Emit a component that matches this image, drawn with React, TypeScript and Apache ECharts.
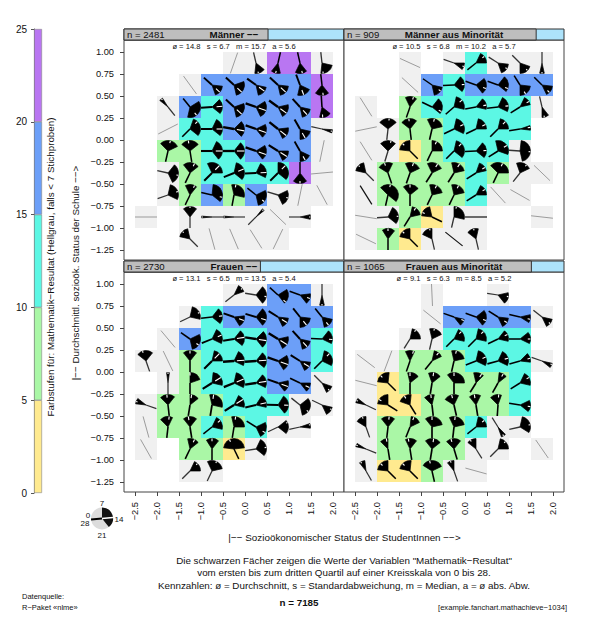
import React, { useEffect, useRef } from "react";
import * as echarts from "echarts";

const FONT = "Liberation Sans, Arial, sans-serif";
const TOTAL_N = 7185;

// colour classes: 0 few samples, 1..5 = bands of the mean
const classColors = ["#F0F0F0", "#FFEA8F", "#AAF7A6", "#5CF7E4", "#6C9FF8", "#B976F2"];
const bandColors = classColors.slice(1);
const bandSize = [5, 5, 5, 5, 5];
const xTicks = [-2.5, -2, -1.5, -1, -0.5, 0, 0.5, 1, 1.5, 2];
const yTicks = [-1.25, -1, -0.75, -0.5, -0.25, 0, 0.25, 0.5, 0.75, 1];

const legendQ1 = 7;
const legendMedian = 13.6;
const legendQ3 = 18;

const panelTitles = ["Männer −−", "Männer aus Minorität", "Frauen −−", "Frauen aus Minorität"];
const panelN = [2481, 909, 2730, 1065];
const panelStats = [
  "ø = 14.8   s = 6.7   m = 15.7   a = 5.6",
  "ø = 10.5   s = 6.8   m = 10.2   a = 5.7",
  "ø = 13.1   s = 6.5   m = 13.5   a = 5.4",
  "ø = 9.1   s = 6.3   m = 8.5   a = 5.2",
];

// each cell: [ses, schoolSes, class, median, q1, q3, n]
const cellsMen = [
  [-0.25, 0.875, 0, 22.5, 0, 0, 1], [0.25, 0.875, 0, 20, 17, 21.5, 4], [0.75, 0.875, 5, 22, 20, 24, 8], [1.25, 0.875, 5, 20, 18, 23, 8], [1.75, 0.875, 0, 20.5, 15, 21.5, 5],
  [-1.25, 0.625, 0, 18.2, 0, 0, 1], [-0.75, 0.625, 4, 17.3, 14.5, 19.5, 25], [-0.25, 0.625, 4, 17.3, 12.5, 20, 30], [0.25, 0.625, 4, 16.8, 15, 20, 35], [0.75, 0.625, 4, 17.3, 14.5, 20, 35], [1.25, 0.625, 4, 19.4, 16, 22, 25], [1.75, 0.625, 5, 20.5, 18, 24, 10],
  [-1.75, 0.375, 0, 4, 3, 4.5, 3], [-1.25, 0.375, 4, 18, 11.5, 22, 12], [-0.75, 0.375, 3, 13.7, 10.5, 17, 30], [-0.25, 0.375, 4, 17.3, 12.5, 20, 35], [0.25, 0.375, 4, 15.5, 11.5, 19, 50], [0.75, 0.375, 4, 16.8, 13, 19, 50], [1.25, 0.375, 4, 17.7, 15, 20, 30], [1.75, 0.375, 5, 20.7, 17, 22, 12],
  [-1.75, 0.125, 0, 25.9, 0, 0, 1], [-1.25, 0.125, 3, 10.5, 8.5, 17, 12], [-0.75, 0.125, 3, 14, 9, 17, 30], [-0.25, 0.125, 4, 14.8, 10.5, 17.5, 50], [0.25, 0.125, 4, 15.5, 12, 18, 50], [0.75, 0.125, 4, 17, 13.5, 19, 50], [1.25, 0.125, 4, 18.7, 15, 21, 30], [1.75, 0.125, 0, 15, 14.3, 15.7, 3],
  [-1.75, -0.125, 2, 8, 3.5, 12, 9], [-1.25, -0.125, 2, 6.3, 3, 11, 10], [-0.75, -0.125, 3, 14, 9, 18, 35], [-0.25, -0.125, 3, 14, 10, 18, 50], [0.25, -0.125, 4, 15.5, 11.5, 18, 50], [0.75, -0.125, 4, 16.5, 14, 19, 40], [1.25, -0.125, 4, 18.7, 16, 21, 20], [1.75, -0.125, 0, 21.9, 0, 0, 1],
  [-1.75, -0.375, 0, 15, 10, 19, 5], [-1.25, -0.375, 2, 9, 4, 11, 12], [-0.75, -0.375, 3, 10.5, 5, 14, 30], [-0.25, -0.375, 3, 12.3, 8, 17, 30], [0.25, -0.375, 3, 13.8, 9, 16, 30], [0.75, -0.375, 3, 10.5, 7, 17, 25], [1.25, -0.375, 5, 21, 18, 24, 8], [1.75, -0.375, 0, 27.6, 0, 0, 1],
  [-1.75, -0.625, 0, 12.5, 8, 16, 4], [-1.25, -0.625, 2, 9, 5, 10, 8], [-0.75, -0.625, 4, 15, 7.5, 17, 9], [-0.25, -0.625, 2, 7.8, 6, 15, 10], [0.25, -0.625, 4, 17, 12, 20, 9], [0.75, -0.625, 0, 15.3, 12, 19, 5], [1.25, -0.625, 0, 21.9, 0, 0, 1], [1.75, -0.625, 0, 18.8, 0, 0, 1],
  [-2.25, -0.875, 0, 14, 0, 0, 1], [-1.25, -0.875, 0, 7, 4, 10, 3], [-0.75, -0.875, 0, 0, -0.4, 0.4, 2], [-0.25, -0.875, 0, 0, -0.4, 0.4, 2], [0.25, -0.875, 0, 10.5, 10, 11, 2], [0.75, -0.875, 0, 17.4, 0, 0, 1], [1.25, -0.875, 0, 14, 13, 15, 2],
  [-1.25, -1.125, 0, 3.5, 1, 6, 3], [-0.75, -1.125, 0, 19.8, 0, 0, 1], [-0.25, -1.125, 0, 19.2, 0, 0, 1], [0.25, -1.125, 0, 18.5, 0, 0, 1], [0.75, -1.125, 0, 23, 0, 0, 1],
];

const cellsMenMinority = [
  [-1.25, 0.875, 0, 15.9, 0, 0, 1], [-0.25, 0.875, 0, 15.5, 14, 17, 3], [0.25, 0.875, 3, 11, 9, 14, 8], [0.75, 0.875, 0, 16.5, 14.5, 19.5, 4], [1.25, 0.875, 0, 17.5, 15.5, 21, 4], [1.75, 0.875, 0, 21, 20, 22, 3],
  [-1.25, 0.625, 0, 17.3, 0, 0, 1], [-0.75, 0.625, 4, 16.7, 15, 20, 8], [-0.25, 0.625, 3, 13.8, 10, 17, 10], [0.25, 0.625, 4, 15.5, 11, 18, 12], [0.75, 0.625, 4, 15.5, 10, 17, 12], [1.25, 0.625, 4, 18.5, 14.5, 21, 10], [1.75, 0.625, 4, 17.5, 14.5, 19, 10],
  [-2.25, 0.375, 0, 18.5, 0, 0, 1], [-1.25, 0.375, 2, 8.5, 5, 10, 9], [-0.75, 0.375, 3, 16, 10, 17, 12], [-0.25, 0.375, 3, 10.8, 8, 15, 12], [0.25, 0.375, 3, 13.2, 10, 15, 12], [0.75, 0.375, 3, 13.5, 9, 16, 12], [1.25, 0.375, 3, 11.5, 9, 13, 10], [1.75, 0.375, 0, 20, 18, 21, 3],
  [-2.25, 0.125, 0, 27.1, 0, 0, 1], [-1.75, 0.125, 0, 7.5, 3, 11, 5], [-1.25, 0.125, 2, 6.5, 3, 10, 10], [-0.75, 0.125, 2, 8, 5, 13, 12], [-0.25, 0.125, 3, 12, 8, 16, 15], [0.25, 0.125, 3, 12, 8, 14, 15], [0.75, 0.125, 3, 10.5, 8, 14, 15], [1.25, 0.125, 3, 13.3, 12.5, 14.5, 10],
  [-2.25, -0.125, 0, 18.5, 0, 0, 1], [-1.75, -0.125, 0, 8.3, 3.5, 10.5, 5], [-1.25, -0.125, 1, 3.5, 0.5, 7, 8], [-0.75, -0.125, 2, 9, 7, 14, 12], [-0.25, -0.125, 3, 10.5, 8, 17, 15], [0.25, -0.125, 3, 13.8, 10, 17, 12], [0.75, -0.125, 3, 11.5, 6, 15.5, 15], [1.25, -0.125, 0, 14.3, 7.5, 20, 5],
  [-2.25, -0.375, 0, 3.5, 1, 6, 3], [-1.75, -0.375, 2, 5.5, 2.5, 9, 10], [-1.25, -0.375, 2, 8.5, 5, 12, 12], [-0.75, -0.375, 2, 9.5, 5, 12, 15], [-0.25, -0.375, 2, 9.5, 6, 13, 15], [0.25, -0.375, 3, 11.5, 8.5, 13, 12], [0.75, -0.375, 2, 9, 3.5, 14, 12], [1.25, -0.375, 0, 10, 5.5, 12, 5], [1.75, -0.375, 0, 17.4, 0, 0, 1],
  [-2.25, -0.625, 0, 18.5, 0, 0, 2], [-1.75, -0.625, 2, 8, 3.5, 17, 9], [-1.25, -0.625, 2, 7, 4, 11, 12], [-0.75, -0.625, 2, 9, 6, 13, 12], [-0.25, -0.625, 2, 9, 6, 13, 12], [0.25, -0.625, 3, 11.5, 9, 14, 10], [0.75, -0.625, 0, 17.7, 0, 0, 1], [1.25, -0.625, 0, 16.3, 0, 0, 1],
  [-2.25, -0.875, 0, 14.7, 0, 0, 1], [-1.75, -0.875, 0, 13.7, 9, 17, 4], [-1.25, -0.875, 2, 9.5, 8, 13, 10], [-0.75, -0.875, 1, 2, 0.5, 6, 8], [-0.25, -0.875, 0, 8, 7, 15, 5], [0.25, -0.875, 0, 14, 0, 0, 2], [1.75, -0.875, 0, 14.5, 0, 0, 1],
  [-2.25, -1.125, 0, 16, 0, 0, 1], [-1.75, -1.125, 2, 7, 4.5, 10, 9], [-1.25, -1.125, 1, 3.5, 1, 7, 8], [-0.75, -1.125, 0, 6, 2, 7, 3], [-0.25, -1.125, 0, 17, 0, 0, 2], [0.25, -1.125, 0, 6, 3, 8, 3],
];

const cellsWomen = [
  [-0.25, 0.875, 0, 11, 9, 12.5, 3], [0.25, 0.875, 0, 14.7, 10, 18, 5], [0.75, 0.875, 4, 17.3, 11.5, 18, 12], [1.25, 0.875, 4, 15.5, 13.5, 18, 12], [1.75, 0.875, 0, 21, 20, 22, 3],
  [-1.25, 0.625, 0, 12, 8, 15, 4], [-0.75, 0.625, 3, 13.5, 10, 17, 15], [-0.25, 0.625, 4, 15.5, 13.5, 18.5, 25], [0.25, 0.625, 4, 15.3, 10, 18, 25], [0.75, 0.625, 4, 16.5, 14.5, 19, 30], [1.25, 0.625, 4, 18, 14.5, 21, 25], [1.75, 0.625, 4, 18, 15, 20, 15],
  [-1.75, 0.375, 0, 17.9, 0, 0, 1], [-1.25, 0.375, 4, 16.7, 12, 20, 10], [-0.75, 0.375, 3, 12.3, 9, 16, 20], [-0.25, 0.375, 3, 13.3, 10, 17, 40], [0.25, 0.375, 3, 14.7, 10.5, 18, 50], [0.75, 0.375, 4, 16.5, 13, 19, 50], [1.25, 0.375, 4, 17.7, 15, 20, 30], [1.75, 0.375, 3, 14.2, 10, 16, 15],
  [-2.25, 0.125, 0, 5.5, 3, 10, 4], [-1.75, 0.125, 0, 19, 0, 0, 1], [-1.25, 0.125, 2, 7, 4, 10, 12], [-0.75, 0.125, 3, 10.5, 8, 14, 35], [-0.25, 0.125, 3, 13.7, 9, 16, 50], [0.25, 0.125, 3, 13.7, 10, 17, 50], [0.75, 0.125, 4, 15.5, 11.5, 18.5, 50], [1.25, 0.125, 4, 16.5, 14.5, 19, 30], [1.75, 0.125, 3, 10.5, 8, 16, 15],
  [-1.75, -0.125, 0, 7, 6.4, 7.6, 3], [-1.25, -0.125, 2, 7, 7, 12.5, 12], [-0.75, -0.125, 3, 11.5, 7.5, 15, 35], [-0.25, -0.125, 3, 12.3, 8, 16, 50], [0.25, -0.125, 3, 13.3, 10, 16, 50], [0.75, -0.125, 4, 15.5, 13, 18, 35], [1.25, -0.125, 4, 16, 14, 18, 20], [1.75, -0.125, 0, 17.5, 15.5, 19, 4],
  [-2.25, -0.375, 0, 1.5, 0.5, 3, 3], [-1.75, -0.375, 2, 6.5, 3.5, 10, 12], [-1.25, -0.375, 2, 7.7, 7, 11, 15], [-0.75, -0.375, 2, 7.7, 6, 15, 20], [-0.25, -0.375, 3, 11.5, 9, 15, 40], [0.25, -0.375, 3, 13, 9.5, 15, 30], [0.75, -0.375, 3, 14.1, 9.5, 18, 20], [1.25, -0.375, 0, 17, 11, 20, 5], [1.75, -0.375, 0, 16, 15, 19, 3],
  [-2.25, -0.625, 0, 19.8, 0, 0, 1], [-1.75, -0.625, 2, 7.5, 3.5, 9, 12], [-1.25, -0.625, 2, 6.3, 4, 10, 15], [-0.75, -0.625, 3, 11, 9, 15, 12], [-0.25, -0.625, 2, 7.7, 6, 14, 12], [0.25, -0.625, 3, 16.5, 12, 19, 10], [0.75, -0.625, 0, 12, 11, 17, 3], [1.25, -0.625, 0, 13, 12.5, 14.5, 2],
  [-2.25, -0.875, 0, 18.7, 0, 0, 1], [-1.25, -0.875, 2, 9, 6, 11, 12], [-0.75, -0.875, 2, 7, 4.5, 10, 10], [-0.25, -0.875, 1, 5, 0.5, 13.5, 8], [0.25, -0.875, 0, 13.3, 9, 17, 4],
  [-1.25, -1.125, 0, 10.5, 9, 14, 4], [-0.75, -1.125, 0, 9, 5, 13, 4],
];

const cellsWomenMinority = [
  [-0.75, 0.875, 0, 20.8, 0, 0, 1], [0.75, 0.875, 0, 14.7, 13, 18, 3],
  [-0.75, 0.625, 0, 17, 0, 0, 1], [-0.25, 0.625, 4, 15.5, 15, 18, 10], [0.25, 0.625, 4, 15.5, 11, 18, 12], [0.75, 0.625, 4, 16.5, 14.5, 19, 12], [1.25, 0.625, 4, 15, 13, 16.5, 10], [1.75, 0.625, 0, 17, 15, 19, 4],
  [-1.25, 0.375, 0, 9.5, 8, 14, 5], [-0.75, 0.375, 0, 8, 6, 12, 5], [-0.25, 0.375, 3, 10.5, 9, 15, 12], [0.25, 0.375, 3, 10.5, 8, 15, 12], [0.75, 0.375, 3, 12, 10, 15, 12], [1.25, 0.375, 3, 14, 11, 16, 10],
  [-2.25, 0.125, 0, 16.9, 0, 0, 1], [-1.75, 0.125, 0, 22.6, 0, 0, 1], [-1.25, 0.125, 2, 8.5, 5, 9, 10], [-0.75, 0.125, 2, 10, 8, 12, 12], [-0.25, 0.125, 2, 8, 6, 13, 12], [0.25, 0.125, 3, 12.3, 8, 16, 15], [0.75, 0.125, 3, 12.8, 9, 16, 15], [1.25, 0.125, 3, 12.8, 10.5, 14.5, 10], [1.75, 0.125, 0, 15.5, 15, 17, 3],
  [-2.25, -0.125, 0, 15.1, 0, 0, 1], [-1.75, -0.125, 1, 3.5, 0.5, 7.5, 9], [-1.25, -0.125, 2, 7, 6, 11, 15], [-0.75, -0.125, 2, 7.7, 5.5, 11, 15], [-0.25, -0.125, 2, 7, 4, 14, 15], [0.25, -0.125, 2, 9.5, 6, 10.5, 15], [0.75, -0.125, 2, 9.3, 7.5, 11, 12], [1.25, -0.125, 3, 11.5, 9, 15, 10],
  [-2.25, -0.375, 0, 2, 1, 3, 3], [-1.75, -0.375, 1, 2.5, 0.5, 7, 10], [-1.25, -0.375, 1, 4.5, 1.5, 7.5, 10], [-0.75, -0.375, 2, 6.5, 3.5, 8, 15], [-0.25, -0.375, 2, 6, 2.5, 9, 15], [0.25, -0.375, 2, 6.3, 4, 9, 15], [0.75, -0.375, 2, 7.3, 3.5, 8.5, 12], [1.25, -0.375, 3, 14.7, 12, 17, 10],
  [-2.25, -0.625, 0, 5.5, 2.5, 7, 3], [-1.75, -0.625, 2, 7.5, 4, 10, 12], [-1.25, -0.625, 2, 8.7, 7.5, 12, 12], [-0.75, -0.625, 2, 7, 4, 13, 15], [-0.25, -0.625, 2, 7.5, 5, 13, 15], [0.25, -0.625, 3, 11, 8, 14, 10], [0.75, -0.625, 0, 18.5, 17.5, 19.5, 3], [1.25, -0.625, 0, 13, 8, 16.5, 4],
  [-2.25, -0.875, 0, 1.7, 1, 2.5, 3], [-1.75, -0.875, 2, 6.3, 3.5, 7, 12], [-1.25, -0.875, 2, 6.3, 5, 10, 12], [-0.75, -0.875, 2, 7.7, 4, 11, 15], [-0.25, -0.875, 2, 5.7, 3.5, 10, 12], [0.25, -0.875, 0, 4.5, 3, 7, 3], [0.75, -0.875, 0, 10.5, 8, 14, 4], [1.75, -0.875, 0, 18.3, 0, 0, 1],
  [-2.25, -1.125, 0, 4.7, 4, 6.5, 3], [-1.75, -1.125, 1, 3.5, 0.5, 7, 10], [-1.25, -1.125, 1, 3.5, 1, 7.5, 10], [-0.75, -1.125, 2, 6, 2.5, 12, 10], [-0.25, -1.125, 0, 5.5, 4, 7, 3], [0.25, -1.125, 0, 15.2, 0, 0, 1],
];

const panelCells = [cellsMen, cellsMenMinority, cellsWomen, cellsWomenMinority];

const clockAngle = (v: number) => Math.PI + (v * Math.PI) / 14;

function renderCell(_: any, api: any) {
  const [cx, cy] = api.coord([api.value(0), api.value(1)]);
  const [w, h] = api.size([0.5, 0.25]);
  const cls = api.value(2);
  const m = api.value(3);
  const q1 = api.value(4);
  const q3 = api.value(5);
  const n = api.value(6);
  const a = clockAngle(m);
  const dx = Math.cos(a);
  const dy = Math.sin(a);
  const half = w / 2;
  const children: any[] = [
    { type: "rect", z2: 0, shape: { x: cx - w / 2, y: cy - h / 2, width: w, height: h }, style: { fill: classColors[cls] } },
  ];
  if (q1 === q3) {
    const lone = n <= 1;
    children.push({
      type: "line", z2: 1,
      shape: { x1: cx - dx * half, y1: cy - dy * half, x2: cx + dx * half, y2: cy + dy * half },
      style: { stroke: lone ? "#777777" : "#111111", lineWidth: lone ? 0.7 : 1.2 },
    });
    return { type: "group", children };
  }
  const r = half * 0.95;
  const frac = Math.min(0.72, 0.1 + n / 65);
  children.push(
    {
      type: "line", z2: 1,
      shape: { x1: cx, y1: cy, x2: cx - dx * half, y2: cy - dy * half },
      style: { stroke: n < 7 ? "#333333" : "#000000", lineWidth: 0.9 + 0.2 * Math.sqrt(n) },
    },
    {
      type: "sector", z2: 2,
      shape: { cx, cy, r, r0: 0, startAngle: clockAngle(q1), endAngle: clockAngle(q3), clockwise: true },
      style: { fill: "#000000", stroke: "#000000", lineWidth: 0.7, lineJoin: "round" },
    },
    {
      type: "line", z2: 3,
      shape: { x1: cx + dx * r * (1 - frac), y1: cy + dy * r * (1 - frac), x2: cx + dx * r, y2: cy + dy * r },
      style: { stroke: "#FFFFFF", lineWidth: 1.1 },
    },
  );
  return { type: "group", children };
}

const txt = (x: number, y: number, text: string, o: any = {}) => ({
  type: "text", x, y, rotation: o.rotation ?? 0,
  style: {
    text, fill: o.fill ?? "#111111", font: `${o.weight ?? "normal"} ${o.size ?? 10}px ${FONT}`,
    textAlign: o.align ?? "center", textVerticalAlign: "middle",
  },
});

export default function App() {
  const ref = useRef<HTMLDivElement>(null);
  useEffect(() => {
    const chart = echarts.init(ref.current!, undefined, { renderer: "svg" });
    const lefts = [124, 344, 124, 344];
    const tops = [40, 40, 272, 272];
    const grids: any[] = [];
    const xAxes: any[] = [];
    const yAxes: any[] = [];
    const series: any[] = [];
    const graphic: any[] = [];

    panelCells.forEach((cells, i) => {
      grids.push({ left: lefts[i], top: tops[i], width: 220, height: 220, show: true, borderColor: "#444444", borderWidth: 1, backgroundColor: "#FFFFFF" });
      xAxes.push({
        gridIndex: i, type: "value", min: -2.75, max: 2.25, show: i >= 2, splitLine: { show: false },
        axisLine: { show: false, onZero: false },
        axisTick: { show: true, length: 4, customValues: xTicks, lineStyle: { color: "#444444" } },
        axisLabel: {
          customValues: xTicks, rotate: 90, margin: 10, fontSize: 9.3, fontFamily: FONT, color: "#111111",
          formatter: (v: number) => v.toFixed(1).replace("-", "−"),
        },
      });
      yAxes.push({
        gridIndex: i, type: "value", min: 1 - 208 / 88, max: 1 + 12 / 88, show: i % 2 === 0, splitLine: { show: false },
        axisLine: { show: false, onZero: false },
        axisTick: { show: true, length: 4, customValues: yTicks, lineStyle: { color: "#444444" } },
        axisLabel: {
          customValues: yTicks, margin: 10, fontSize: 9.3, fontFamily: FONT, color: "#111111",
          formatter: (v: number) => v.toFixed(2).replace("-", "−"),
        },
      });
      series.push({
        type: "custom", xAxisIndex: i, yAxisIndex: i, renderItem: renderCell, data: cells,
        encode: { x: 0, y: 1 }, silent: true, clip: false,
      });
      // strip above the panel
      const top = tops[i] - 11;
      const grayW = 220 * (1 - panelN[i] / TOTAL_N);
      graphic.push(
        { type: "rect", shape: { x: lefts[i], y: top, width: 220, height: 11 }, style: { fill: "#ADE3FB", stroke: "#333333", lineWidth: 1 } },
        { type: "rect", shape: { x: lefts[i], y: top, width: grayW, height: 11 }, style: { fill: "#BEBEBE", stroke: "#333333", lineWidth: 1 } },
        txt(lefts[i] + 3, top + 5.8, `n = ${panelN[i]}`, { align: "left", size: 9.6 }),
        txt(lefts[i] + 110, top + 5.8, panelTitles[i], { weight: "bold", size: 9.8 }),
        txt(lefts[i] + 110, tops[i] + 6.7, panelStats[i], { size: 7.6 }),
      );
    });

    // colour scale
    grids.push({ left: 34, top: 29, width: 8, height: 464, show: false });
    xAxes.push({ gridIndex: 4, type: "category", data: ["scale"], show: false });
    yAxes.push({
      gridIndex: 4, type: "value", min: 0, max: 25, interval: 5, splitLine: { show: false },
      axisLine: { show: true, lineStyle: { color: "#555555" } },
      axisTick: { show: true, length: 3, lineStyle: { color: "#555555" } },
      axisLabel: { margin: 7, fontSize: 10, fontFamily: FONT, color: "#111111" },
    });
    bandColors.forEach((color, k) => {
      series.push({
        type: "bar", xAxisIndex: 4, yAxisIndex: 4, stack: "scale", barWidth: "100%",
        data: [bandSize[k]], itemStyle: { color, borderColor: "#888888", borderWidth: 0.6 }, silent: true,
      });
    });

    // key of the fan
    const kx = 102, ky = 518.5, kr = 11;
    const ka = clockAngle(legendMedian);
    graphic.push(
      { type: "circle", shape: { cx: kx, cy: ky, r: kr }, style: { fill: "#DCDCDC" } },
      { type: "sector", shape: { cx: kx, cy: ky, r: kr, r0: 0, startAngle: clockAngle(legendQ1), endAngle: clockAngle(legendQ3), clockwise: true }, style: { fill: "#111111" } },
      { type: "line", shape: { x1: kx, y1: ky, x2: kx - Math.cos(ka) * kr, y2: ky - Math.sin(ka) * kr }, style: { stroke: "#000000", lineWidth: 1.8 } },
      { type: "line", shape: { x1: kx, y1: ky, x2: kx + Math.cos(ka) * kr, y2: ky + Math.sin(ka) * kr }, style: { stroke: "#FFFFFF", lineWidth: 1.5 } },
      txt(102, 503, "7", { size: 8 }), txt(119, 519, "14", { size: 8 }), txt(102, 535.5, "21", { size: 8 }),
      txt(88, 515, "0", { size: 8 }), txt(85, 523, "28", { size: 8 }),
    );

    graphic.push(
      txt(50.5, 267, "Farbstufen für: Mathematik−Resultat (Hellgrau, falls < 7 Stichproben)", { rotation: Math.PI / 2, size: 9.8 }),
      txt(75, 273, "|−− Durchschnittl. sozioök. Status der Schule −−>", { rotation: Math.PI / 2, size: 9.8 }),
      txt(344.5, 537, "|−− Sozioökonomischer Status der StudentInnen −−>", { size: 9.9 }),
      txt(344, 560, 'Die schwarzen Fächer zeigen die Werte der Variablen "Mathematik−Resultat"', { size: 9.8 }),
      txt(344, 572.5, "vom ersten bis zum dritten Quartil auf einer Kreisskala von 0 bis 28.", { size: 9.8 }),
      txt(344, 585, "Kennzahlen: ø = Durchschnitt, s = Standardabweichung, m = Median, a = ø abs. Abw.", { size: 9.8 }),
      txt(22, 596, "Datenquelle:", { align: "left", size: 7.5 }),
      txt(22, 607, "R−Paket «nlme»", { align: "left", size: 7.5 }),
      txt(299, 602, `n = ${TOTAL_N}`, { weight: "bold", size: 9.8 }),
      txt(567, 607, "[example.fanchart.mathachieve−1034]", { align: "right", size: 7.6 }),
    );

    chart.setOption({
      animation: false,
      backgroundColor: "#FFFFFF",
      grid: grids, xAxis: xAxes, yAxis: yAxes, series, graphic: { elements: graphic },
    });
    return () => chart.dispose();
  }, []);
  return <div ref={ref} style={{ position: "absolute", left: 0, top: 0, width: 600, height: 617 }} />;
}
